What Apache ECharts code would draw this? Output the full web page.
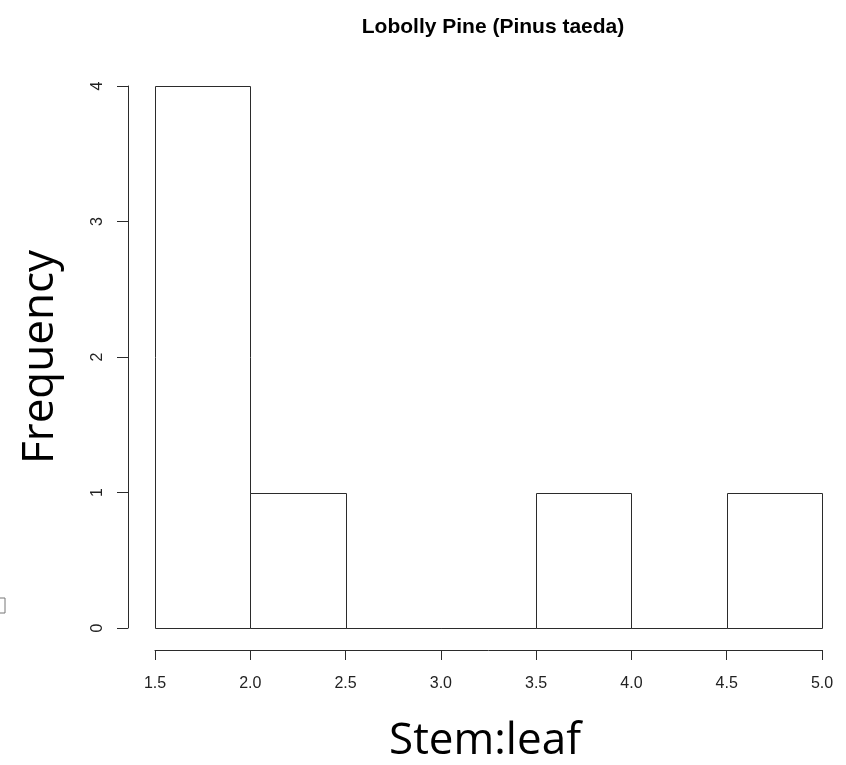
<!DOCTYPE html>
<html>
<head>
<meta charset="utf-8">
<title>Lobolly Pine (Pinus taeda)</title>
<script src="https://cdn.jsdelivr.net/npm/echarts@6/dist/echarts.min.js"></script>
<style>
  html, body { margin: 0; padding: 0; background: #ffffff; }
  #chart { width: 846px; height: 765px; }
</style>
</head>
<body>
<div id="chart"></div>
<script>
// Histogram bins (left edge, right edge) and their counts
const binStarts = [1.5, 2.0, 2.5, 3.0, 3.5, 4.0, 4.5];
const binEnds   = [2.0, 2.5, 3.0, 3.5, 4.0, 4.5, 5.0];
const counts    = [4, 1, 0, 0, 1, 0, 1];

// Axis tick labels
const xTickLabels = ['1.5', '2.0', '2.5', '3.0', '3.5', '4.0', '4.5', '5.0'];
const yTickLabels = ['0', '1', '2', '3', '4'];

const titleText = 'Lobolly Pine (Pinus taeda)';
const xName = 'Stem:leaf';
const yName = 'Frequency';

const lineColor = '#2b2b2b';
const tickFont = 'Liberation Sans, Arial, Helvetica, sans-serif';
const bigFont = '"Open Sans", "Noto Sans", sans-serif';

const bins = binStarts.map((s, i) => [s, binEnds[i], counts[i]]);

const chart = echarts.init(document.getElementById('chart'), null, { renderer: 'canvas' });

chart.setOption({
  animation: false,
  backgroundColor: '#ffffff',
  title: {
    text: titleText,
    left: 488,
    top: 12,
    textAlign: 'center',
    textStyle: { fontFamily: tickFont, fontWeight: 'bold', fontSize: 21, color: '#000' }
  },
  grid: { left: 155, right: 24, top: 86, bottom: 137 },
  xAxis: {
    type: 'value',
    min: 1.5,
    max: 5.0,
    interval: 0.5,
    offset: 22,
    splitLine: { show: false },
    axisLine: { show: true, onZero: false, lineStyle: { color: lineColor, width: 1 } },
    axisTick: { show: true, length: 10, lineStyle: { color: lineColor, width: 1 } },
    axisLabel: {
      margin: 26,
      fontFamily: tickFont,
      fontSize: 16,
      color: '#222',
      formatter: (v) => {
        const i = Math.round((v - 1.5) / 0.5);
        return xTickLabels[i] !== undefined ? xTickLabels[i] : '';
      }
    }
  },
  yAxis: {
    type: 'value',
    min: 0,
    max: 4,
    interval: 1,
    offset: 27,
    splitLine: { show: false },
    axisLine: { show: true, onZero: false, lineStyle: { color: lineColor, width: 1 } },
    axisTick: { show: true, length: 11, lineStyle: { color: lineColor, width: 1 } },
    axisLabel: {
      rotate: 90,
      margin: 22,
      fontFamily: tickFont,
      fontSize: 16,
      color: '#222',
      formatter: (v) => yTickLabels[Math.round(v)] !== undefined ? yTickLabels[Math.round(v)] : ''
    }
  },
  series: [{
    type: 'custom',
    data: bins,
    encode: { x: [0, 1], y: 2 },
    renderItem: (params, api) => {
      const p0 = api.coord([api.value(0), 0]);
      const p1 = api.coord([api.value(1), api.value(2)]);
      return {
        type: 'rect',
        shape: {
          x: Math.round(p0[0]) + 0.5,
          y: Math.round(p1[1]) + 0.5,
          width: Math.round(p1[0]) - Math.round(p0[0]),
          height: Math.round(p0[1]) - Math.round(p1[1])
        },
        style: { fill: '#ffffff', stroke: lineColor, lineWidth: 1 }
      };
    }
  }],
  graphic: [
    {
      type: 'text',
      x: 485,
      y: 741,
      style: {
        text: xName,
        x: 0,
        y: 0,
        align: 'center',
        verticalAlign: 'middle',
        font: '44px ' + bigFont,
        fill: '#000'
      }
    },
    {
      type: 'text',
      x: 40,
      y: 357,
      rotation: Math.PI / 2,
      style: {
        text: yName,
        x: 0,
        y: 0,
        align: 'center',
        verticalAlign: 'middle',
        font: '44px ' + bigFont,
        fill: '#000'
      }
    },
    {
      type: 'rect',
      shape: { x: -10, y: 598, width: 15, height: 15 },
      style: { fill: '#ffffff', stroke: '#777777', lineWidth: 1 }
    }
  ]
});
</script>
</body>
</html>
